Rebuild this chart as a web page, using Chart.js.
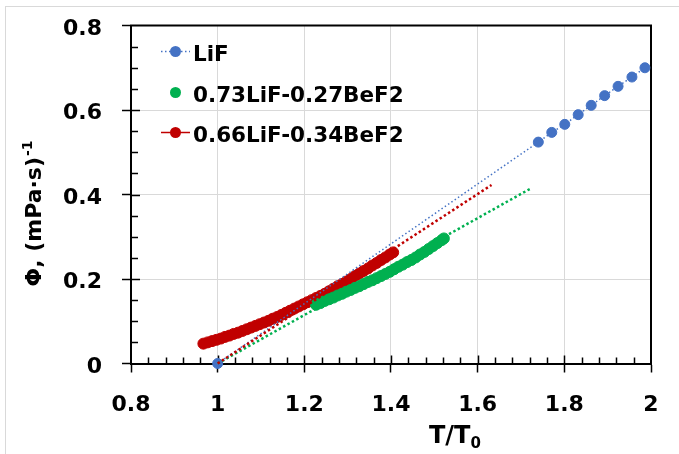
<!DOCTYPE html>
<html><head><meta charset="utf-8">
<script src="https://cdn.jsdelivr.net/npm/chart.js@4.4.0/dist/chart.umd.min.js"></script>
<style>html,body{margin:0;padding:0;background:#fff}#wrap{width:679px;height:454px;position:relative}</style>
</head><body><div id="wrap"><canvas id="c"></canvas></div>
<script>
// ---------- data ----------
const seriesNames = ['LiF', '0.73LiF-0.27BeF2', '0.66LiF-0.34BeF2'];

const lifX = [1.000, 1.740, 1.771, 1.801, 1.832, 1.862, 1.893, 1.924, 1.956, 1.986];
const lifY = [0.000, 0.524, 0.547, 0.566, 0.589, 0.611, 0.634, 0.656, 0.678, 0.700];

const mix73X = [1.227, 1.237, 1.247, 1.257, 1.267, 1.277, 1.287, 1.297, 1.307, 1.317, 1.327, 1.337, 1.347,
                1.357, 1.367, 1.377, 1.387, 1.397, 1.407, 1.417, 1.427, 1.437, 1.447, 1.457, 1.467, 1.477,
                1.487, 1.497, 1.507, 1.517, 1.522];
const mix73Y = [0.139, 0.143, 0.148, 0.152, 0.156, 0.161, 0.165, 0.170, 0.174, 0.179, 0.183, 0.188, 0.193,
                0.197, 0.202, 0.207, 0.212, 0.217, 0.223, 0.229, 0.234, 0.240, 0.245, 0.251, 0.258, 0.264,
                0.271, 0.278, 0.285, 0.292, 0.296];

const mix66X = [0.967, 0.977, 0.987, 0.997, 1.007, 1.017, 1.027, 1.037, 1.047, 1.057, 1.067, 1.077, 1.087,
                1.097, 1.107, 1.117, 1.127, 1.137, 1.147, 1.157, 1.167, 1.177, 1.187, 1.197, 1.207, 1.217,
                1.227, 1.237, 1.247, 1.257, 1.267, 1.277, 1.287, 1.297, 1.307, 1.317, 1.327, 1.337, 1.347,
                1.357, 1.367, 1.377, 1.387, 1.397, 1.405];
const mix66Y = [0.047, 0.050, 0.053, 0.056, 0.059, 0.063, 0.066, 0.070, 0.073, 0.077, 0.081, 0.085, 0.089,
                0.093, 0.097, 0.101, 0.106, 0.110, 0.115, 0.120, 0.125, 0.130, 0.135, 0.140, 0.145, 0.150,
                0.155, 0.160, 0.165, 0.171, 0.177, 0.183, 0.188, 0.194, 0.200, 0.207, 0.213, 0.219, 0.225,
                0.232, 0.238, 0.245, 0.251, 0.258, 0.263];

// linear trend lines (end points)
const fit73X = [1.000, 1.722];
const fit73Y = [0.000, 0.414];
const fit66X = [1.000, 1.632];
const fit66Y = [0.000, 0.4225];

const xTicks = [0.8, 1, 1.2, 1.4, 1.6, 1.8, 2];
const xTickLabels = ['0.8', '1', '1.2', '1.4', '1.6', '1.8', '2'];
const yTicks = [0, 0.2, 0.4, 0.6, 0.8];
const yTickLabels = ['0', '0.2', '0.4', '0.6', '0.8'];
const xMinorStep = 0.04;
const yMinorStep = 0.05;

const xTitle = 'T/T', xTitleSub = '0';
const yTitle = 'Φ, (mPa·s)', yTitleSup = '-1';

// ---------- styles ----------
const BLUE = '#4472C4', GREEN = '#00B050', RED = '#C00000';
const FONT = "'DejaVu Sans'";
const pts = (xs, ys) => xs.map((x, i) => ({x: x, y: ys[i]}));

Chart.defaults.font.family = FONT;
Chart.defaults.color = '#000';

const frameTicks = {
  id: 'frameTicks',
  beforeDraw(chart) {
    const ctx = chart.ctx;
    ctx.save();
    ctx.strokeStyle = '#d9d9d9';
    ctx.lineWidth = 1;
    ctx.strokeRect(5.5, 6.5, 800, 600);
    ctx.restore();
  },
  beforeDatasetsDraw(chart) {
    const {ctx, chartArea: a, scales: {x, y}} = chart;
    ctx.save();
    ctx.strokeStyle = '#000';
    ctx.lineWidth = 2;
    ctx.beginPath();
    ctx.moveTo(a.left - 1, a.top); ctx.lineTo(a.right, a.top); ctx.lineTo(a.right, a.bottom + 1);
    ctx.stroke();
    ctx.lineWidth = 1.5;
    ctx.beginPath();
    const nY = Math.round((y.max - y.min) / yMinorStep);
    for (let i = 1; i < nY; i++) {
      const v = y.min + i * yMinorStep;
      const py = Math.round(y.getPixelForValue(v)) + 0.5;
      const major = yTicks.some(t => Math.abs(t - v) < 1e-6);
      ctx.moveTo(a.left, py); ctx.lineTo(a.left + (major ? 9 : 7), py);
    }
    const nX = Math.round((x.max - x.min) / xMinorStep);
    for (let i = 1; i < nX; i++) {
      const v = x.min + i * xMinorStep;
      const px = Math.round(x.getPixelForValue(v)) + 0.5;
      const major = xTicks.some(t => Math.abs(t - v) < 1e-6);
      ctx.moveTo(px, a.bottom); ctx.lineTo(px, a.bottom - (major ? 8 : 6));
    }
    ctx.stroke();
    ctx.restore();
  },
  afterDraw(chart) {
    const {ctx, chartArea: a} = chart;
    ctx.save();
    ctx.fillStyle = '#000';
    // x title
    ctx.font = "bold 24px " + FONT;
    const w1 = ctx.measureText(xTitle).width;
    ctx.font = "bold 15px " + FONT;
    const w2 = ctx.measureText(xTitleSub).width;
    const cx = a.left + (a.right - a.left) * 0.623;
    let sx = cx - (w1 + w2) / 2;
    ctx.textBaseline = 'alphabetic';
    ctx.textAlign = 'left';
    ctx.font = "bold 24px " + FONT;
    ctx.fillText(xTitle, sx, 443);
    ctx.font = "bold 15px " + FONT;
    ctx.fillText(xTitleSub, sx + w1, 448);
    // y title
    ctx.translate(41, 214);
    ctx.rotate(-Math.PI / 2);
    ctx.font = "bold 22px " + FONT;
    const m1 = ctx.measureText(yTitle).width;
    ctx.font = "bold 14px " + FONT;
    const m2 = ctx.measureText(yTitleSup).width;
    const s = -(m1 + m2) / 2;
    ctx.font = "bold 22px " + FONT;
    ctx.fillText(yTitle, s, 0);
    ctx.font = "bold 14px " + FONT;
    ctx.fillText(yTitleSup, s + m1 + 1, -9);
    ctx.restore();

    // legend
    ctx.save();
    const lx = a.left + 30, rows = [a.top + 26, a.top + 67, a.top + 107];
    const ds = chart.data.datasets;
    const items = [ds[2], ds[3], ds[4]];
    items.forEach((d, i) => {
      const yy = rows[i];
      if (d.showLine) {
        ctx.beginPath();
        ctx.strokeStyle = d.borderColor;
        ctx.lineWidth = d.borderWidth;
        ctx.setLineDash(d.borderDash || []);
        ctx.moveTo(lx, yy); ctx.lineTo(lx + 29, yy);
        ctx.stroke();
        ctx.setLineDash([]);
      }
      ctx.beginPath();
      ctx.fillStyle = d.pointBackgroundColor;
      ctx.arc(lx + 14.5, yy, 5.5, 0, Math.PI * 2);
      ctx.fill();
      ctx.fillStyle = '#000';
      ctx.font = "bold 21.5px " + FONT;
      ctx.textBaseline = 'alphabetic';
      ctx.textAlign = 'left';
      ctx.fillText(d.label, lx + 32, yy + 9.5);
    });
    ctx.restore();
  }
};

new Chart(document.getElementById('c'), {
  type: 'scatter',
  data: {
    datasets: [
      { label: 'fit66', data: pts(fit66X, fit66Y), showLine: true, borderColor: RED, borderWidth: 2.5,
        borderDash: [2.5, 2.5], pointRadius: 0, order: 0 },
      { label: 'fit73', data: pts(fit73X, fit73Y), showLine: true, borderColor: GREEN, borderWidth: 2.5,
        borderDash: [2.5, 2.5], pointRadius: 0, order: 0 },
      { label: seriesNames[0], data: pts(lifX, lifY), showLine: true, borderColor: BLUE, borderWidth: 1.5,
        borderDash: [1.5, 2.5], pointRadius: 5, pointBorderWidth: 1, pointBackgroundColor: BLUE,
        pointBorderColor: BLUE, order: 1 },
      { label: seriesNames[1], data: pts(mix73X, mix73Y), showLine: false, borderColor: GREEN,
        pointRadius: 5.5, pointBorderWidth: 1, pointBackgroundColor: GREEN, pointBorderColor: GREEN, order: 2 },
      { label: seriesNames[2], data: pts(mix66X, mix66Y), showLine: true, borderColor: RED, borderWidth: 1.5,
        pointRadius: 5.5, pointBorderWidth: 1, pointBackgroundColor: RED, pointBorderColor: RED, order: 3 }
    ]
  },
  options: {
    responsive: true,
    maintainAspectRatio: false,
    animation: false,
    clip: false,
    layout: { padding: { left: 0, top: 25.5, right: 28, bottom: 0 } },
    plugins: { legend: { display: false }, tooltip: { enabled: false } },
    scales: {
      x: {
        type: 'linear', min: 0.8, max: 2,
        afterBuildTicks: s => { s.ticks = xTicks.map(v => ({value: v})); },
        afterFit: s => { s.height = 90.5; s.paddingLeft = 0; s.paddingRight = 0; },
        ticks: { callback: (v, i) => xTickLabels[i], font: { size: 22, weight: 'bold' }, color: '#000',
                 padding: 20, maxRotation: 0, autoSkip: false },
        grid: { color: '#d9d9d9', lineWidth: 1, tickLength: 9, tickColor: '#000', tickWidth: 1.5 },
        border: { color: '#000', width: 2 }
      },
      y: {
        type: 'linear', min: 0, max: 0.8,
        afterBuildTicks: s => { s.ticks = yTicks.map(v => ({value: v})); },
        afterFit: s => { s.width = 131; s.paddingTop = 0; s.paddingBottom = 0; },
        ticks: { callback: (v, i) => yTickLabels[i], font: { size: 22, weight: 'bold' }, color: '#000',
                 padding: 20, labelOffset: 3.5 },
        grid: { color: '#d9d9d9', lineWidth: 1, tickLength: 9, tickColor: '#000', tickWidth: 1.5 },
        border: { color: '#000', width: 2 }
      }
    }
  },
  plugins: [frameTicks]
});
</script>
</body></html>
